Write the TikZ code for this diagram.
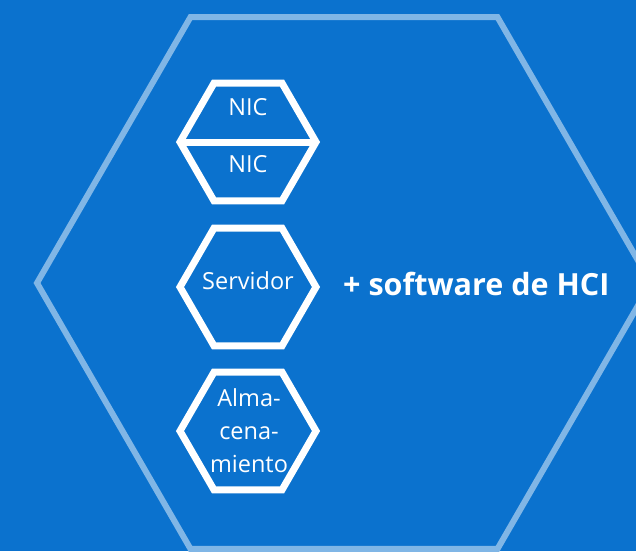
\documentclass[tikz,border=0pt]{standalone}
\usepackage{fontspec}
\setmainfont{Open Sans}
\usetikzlibrary{shapes.geometric}
\definecolor{bgblue}{RGB}{11,114,206}
\definecolor{paleblue}{RGB}{128,182,230}

\begin{document}
\begin{tikzpicture}[x=1pt, y=-1pt,
    hexa/.style={regular polygon, regular polygon sides=6, draw=white, line width=7pt,
      minimum size=136pt, inner sep=0pt, outer sep=0pt},
    lbl/.style={text=white, font=\fontsize{23.5}{33}\selectfont, align=center, inner sep=0pt}]
      % Background
      \fill[bgblue] (0,0) rectangle (636,551);
      \useasboundingbox (0,0) rectangle (636,551);
      \clip (0,0) rectangle (636,551);

      % Outer hexagon
      \node[regular polygon, regular polygon sides=6, draw=paleblue, line width=6pt,
        minimum size=614pt, inner sep=0pt, outer sep=0pt] (hci) at (344,283) {};

      % Stack of hexagons
      \node[hexa] (nic) at (248,142) {};
      \node[hexa] (srv) at (248,287) {};
      \node[hexa] (alm) at (248,431) {};
      \draw[white, line width=7pt] (nic.west) -- (nic.east);

      % Labels
      \node[lbl] (nic1) at (248,107) {NIC};
      \node[lbl] (nic2) at (248,164) {NIC};
      \node[lbl] (srvtxt) at (248,281) {Servidor};
      \node[lbl] (almtxt) at (249,431) {Alma-\\cena-\\miento};
      \node[text=white, font=\bfseries\fontsize{30.5}{36}\selectfont, anchor=base west,
        inner sep=0pt] (sw) at (343,295) {+ software de HCI};
    \end{tikzpicture}
\end{document}
